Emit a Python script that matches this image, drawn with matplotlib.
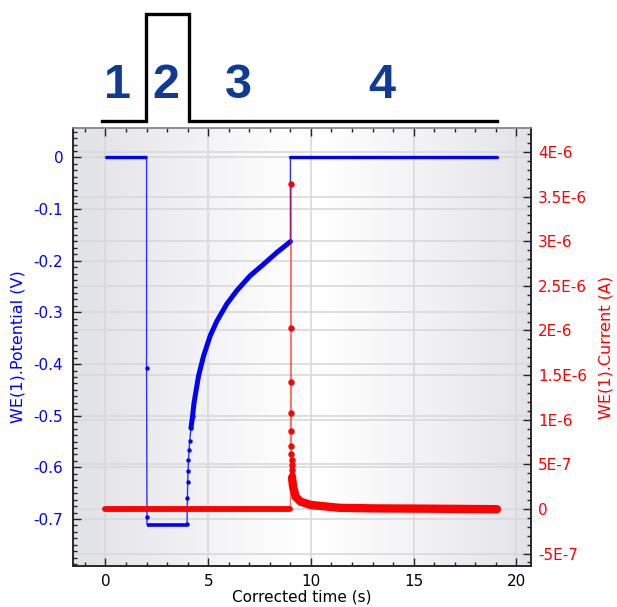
import numpy as np
import matplotlib.pyplot as plt
from matplotlib.ticker import MultipleLocator, FixedLocator, FixedFormatter

# potential program (V) by phase
phase1_t = [0.0, 2.0]
phase1_v = [0.0, 0.0]
drop_t = [2.0, 2.0, 2.02]
drop_v = [0.0, -0.407, -0.696]
phase2_t = [2.02, 3.97]
phase2_v = [-0.711, -0.711]
rise_t = [3.97, 3.99, 4.00, 4.02, 4.04, 4.07, 4.10, 4.16, 4.24, 4.31, 4.53,
          4.77, 5.09, 5.42, 5.90, 6.39, 7.04, 7.69, 8.34, 9.00]
rise_v = [-0.709, -0.659, -0.629, -0.608, -0.585, -0.566, -0.549, -0.524,
          -0.501, -0.475, -0.423, -0.385, -0.346, -0.317, -0.284, -0.258,
          -0.229, -0.207, -0.184, -0.163]
phase4_t = [9.0, 9.0, 19.05]
phase4_v = [-0.163, 0.0, 0.0]

# measured current (A)
rest_t = [0.0, 9.0]
rest_i = [-0.005e-6, -0.005e-6]
spike_t = [9.0, 9.02, 9.025, 9.03, 9.035, 9.04, 9.045, 9.05, 9.055, 9.06,
           9.065, 9.07, 9.08]
spike_i = [-0.005e-6, 3.64e-6, 2.03e-6, 1.42e-6, 1.075e-6, 0.87e-6, 0.71e-6,
           0.62e-6, 0.55e-6, 0.49e-6, 0.44e-6, 0.38e-6, 0.35e-6]
tail_t = [9.08, 9.13, 9.25, 9.49, 9.98, 10.6, 11.4, 13.0, 15.5, 19.05]
tail_i = [0.35e-6, 0.25e-6, 0.138e-6, 0.082e-6, 0.045e-6, 0.03e-6, 0.012e-6,
          0.006e-6, 0.003e-6, -0.003e-6]

# pulse sketch above the plot
pulse_t = [-0.15, 1.97, 1.97, 4.08, 4.08, 19.07]
pulse_lvl = [0, 0, 1, 1, 0, 0]
step_labels = ["1", "2", "3", "4"]
step_pos = [0.57, 2.95, 6.45, 13.46]

x_ticks = [0, 5, 10, 15, 20]
left_ticks = [0, -0.1, -0.2, -0.3, -0.4, -0.5, -0.6, -0.7]
left_labels = ["0", "-0.1", "-0.2", "-0.3", "-0.4", "-0.5", "-0.6", "-0.7"]
right_ticks = [-0.5e-6, 0, 0.5e-6, 1e-6, 1.5e-6, 2e-6, 2.5e-6, 3e-6, 3.5e-6, 4e-6]
right_labels = ["-5E-7", "0", "5E-7", "1E-6", "1.5E-6", "2E-6", "2.5E-6",
                "3E-6", "3.5E-6", "4E-6"]

BLUE = "#0000ff"
RED = "#ff0000"
GRID = "#d9d9d9"

xlim = (-1.58, 20.71)
vlim = (-0.791, 0.057)
ilim = (-0.64e-6, 4.27e-6)

fig = plt.figure(figsize=(6.17, 6.07), dpi=100)
ax = fig.add_axes([73 / 617, 41 / 607, 458 / 617, 438 / 607])
ax2 = ax.twinx()

# soft grey-white-grey background, whitest around t = 10
shade = np.abs(np.linspace(-1, 1, 400) - 0.04)
shade = np.clip(shade / 0.95, 0, 1) ** 1.2
edge = np.array([0.89, 0.89, 0.915])
bg = 1 - (1 - edge)[None, None, :] * shade[None, :, None]
ax.imshow(bg, extent=[xlim[0], xlim[1], vlim[0], vlim[1]], aspect="auto",
          zorder=0, interpolation="bilinear")
ax.set_facecolor("none")

for x in x_ticks:
    ax.axvline(x, color=GRID, lw=1.2, zorder=0.5)
for y in left_ticks:
    ax.axhline(y, color=GRID, lw=1.2, zorder=0.5)
ax.hlines(right_ticks, xlim[0], xlim[1], transform=ax2.transData,
          color=GRID, lw=1.2, zorder=0.5)

# potential trace
all_t = phase1_t + drop_t + phase2_t + rise_t + phase4_t
all_v = phase1_v + drop_v + phase2_v + rise_v + phase4_v
ax.plot(all_t, all_v, color=BLUE, lw=1.0, alpha=0.8, zorder=2)
ax.plot(phase1_t, phase1_v, color=BLUE, lw=2.4, solid_capstyle="butt", zorder=3)
ax.plot(phase2_t, phase2_v, color=BLUE, lw=2.6, solid_capstyle="butt", zorder=3)
ax.plot(phase4_t[1:], phase4_v[1:], color=BLUE, lw=2.4, solid_capstyle="round", zorder=3)
ax.plot(rise_t[7:], rise_v[7:], color=BLUE, lw=3.6, solid_capstyle="round", zorder=3)
ax.plot(drop_t[1:] + rise_t[:9], drop_v[1:] + rise_v[:9], ls="none",
        marker="o", ms=2.2, color=BLUE, zorder=3)

# current trace
ax2.plot(rest_t + spike_t[1:] + tail_t[1:], rest_i + spike_i[1:] + tail_i[1:],
         color=RED, lw=1.0, alpha=0.55, zorder=2)
ax2.plot(rest_t, rest_i, color=RED, lw=4.2, solid_capstyle="round", zorder=3)
ax2.plot(spike_t[1:], spike_i[1:], ls="none", marker="o", ms=3.6, color=RED, zorder=3)
ax2.plot(tail_t, tail_i, color=RED, lw=6.0, solid_capstyle="round", zorder=3)

ax.set_xlim(*xlim)
ax.set_ylim(*vlim)
ax2.set_ylim(*ilim)

ax.xaxis.set_major_locator(FixedLocator(x_ticks))
ax.xaxis.set_minor_locator(MultipleLocator(1))
ax.yaxis.set_major_locator(FixedLocator(left_ticks))
ax.yaxis.set_major_formatter(FixedFormatter(left_labels))
ax.yaxis.set_minor_locator(MultipleLocator(0.0125))
ax2.yaxis.set_major_locator(FixedLocator(right_ticks))
ax2.yaxis.set_major_formatter(FixedFormatter(right_labels))
ax2.yaxis.set_minor_locator(MultipleLocator(1e-7))

ax.tick_params(axis="x", which="both", direction="in", top=True, bottom=True,
               labelsize=11, pad=6, color="#222222")
ax.tick_params(axis="x", which="major", length=6, width=1)
ax.tick_params(axis="x", which="minor", length=3, width=1)
ax.tick_params(axis="y", which="both", direction="in", left=True, right=False,
               labelsize=11, labelcolor=BLUE, pad=7, color="#222222")
ax.tick_params(axis="y", which="major", length=6, width=1)
ax.tick_params(axis="y", which="minor", length=3, width=1)
ax2.tick_params(axis="y", which="both", direction="in", labelsize=11,
                labelcolor=RED, pad=5, color="#222222")
ax2.tick_params(axis="y", which="major", length=6, width=1)
ax2.tick_params(axis="y", which="minor", length=3, width=1)

for a in (ax, ax2):
    for side in ("left", "right", "bottom"):
        a.spines[side].set_color("#222222")
        a.spines[side].set_linewidth(1.1)
    a.spines["top"].set_color("#8a8a8a")
    a.spines["top"].set_linewidth(1.1)

ax.set_xlabel("Corrected time (s)", fontsize=11, labelpad=0)
ax.set_ylabel("WE(1).Potential (V)", fontsize=11.5, color=BLUE, labelpad=6)
ax2.set_ylabel("WE(1).Current (A)", fontsize=11.5, color=RED, labelpad=8)

# step diagram
top = fig.add_axes([73 / 617, 480 / 607, 458 / 617, 127 / 607])
top.set_xlim(*xlim)
top.set_ylim(-0.056, 1.131)
top.axis("off")
top.plot(pulse_t, pulse_lvl, color="black", lw=2.4, solid_joinstyle="miter")
for lab, x in zip(step_labels, step_pos):
    top.text(x, 0.33, lab, ha="center", va="center", fontsize=35,
             fontweight="bold", family="Liberation Sans", color="#103a96")

fig.savefig("out.png", dpi=100)
